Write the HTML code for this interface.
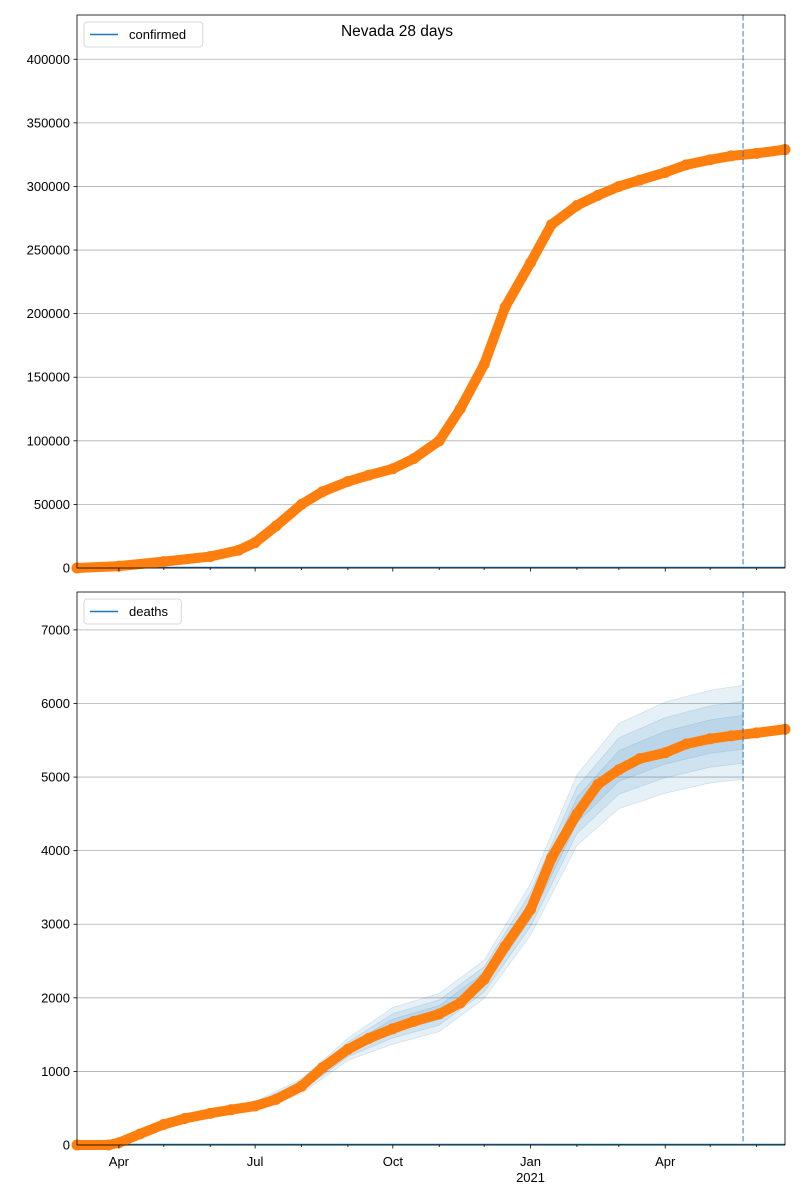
<!DOCTYPE html>
<html><head><meta charset="utf-8"><style>
body{margin:0;background:#fff;}
svg{display:block;font-family:"Liberation Sans","DejaVu Sans",sans-serif;}
</style></head><body>
<svg id="c" width="800" height="1200" xmlns="http://www.w3.org/2000/svg"></svg>
<script>
const confDates=["2020-03-04","2020-04-01","2020-05-01","2020-06-01","2020-06-20","2020-07-01","2020-07-15","2020-08-01","2020-08-15","2020-09-01","2020-09-15","2020-10-01","2020-10-15","2020-11-01","2020-11-15","2020-12-01","2020-12-15","2021-01-01","2021-01-15","2021-02-01","2021-02-15","2021-03-01","2021-03-15","2021-04-01","2021-04-15","2021-05-01","2021-05-15","2021-06-01","2021-06-20"];
const confValues=[0,1500,5000,9000,14000,20000,33000,50000,60000,68000,73000,78000,86000,100000,125000,160000,205000,240000,270000,285000,293000,300000,305000,311000,317000,321000,324000,326000,329000];
const deathDates=["2020-03-04","2020-03-25","2020-04-01","2020-04-15","2020-05-01","2020-05-15","2020-06-01","2020-06-15","2020-07-01","2020-07-15","2020-08-01","2020-08-15","2020-09-01","2020-09-15","2020-10-01","2020-10-15","2020-11-01","2020-11-15","2020-12-01","2020-12-15","2021-01-01","2021-01-15","2021-02-01","2021-02-15","2021-03-01","2021-03-15","2021-04-01","2021-04-15","2021-05-01","2021-05-15","2021-06-01","2021-06-20"];
const deathValues=[0,0,30,150,280,360,430,480,530,620,800,1050,1300,1450,1580,1680,1780,1930,2250,2700,3200,3900,4500,4900,5100,5250,5330,5450,5520,5560,5600,5650];
const bandDates=["2020-06-01","2020-07-01","2020-08-01","2020-09-01","2020-10-01","2020-11-01","2020-12-01","2021-01-01","2021-02-01","2021-03-01","2021-04-01","2021-05-01","2021-05-23"];
const bandCenter=[430,530,800,1300,1620,1800,2250,3200,4550,5150,5400,5550,5610];
const bandOuterWidth=[40,60,100,150,250,260,260,350,480,580,620,630,640];
const confTicks=[0,50000,100000,150000,200000,250000,300000,350000,400000];
const deathTicks=[0,1000,2000,3000,4000,5000,6000,7000];
const xMajor=[["2020-04-01","Apr"],["2020-07-01","Jul"],["2020-10-01","Oct"],["2021-01-01","Jan"],["2021-04-01","Apr"]];
const forecastDate="2021-05-23";

const NS="http://www.w3.org/2000/svg";
const svg=document.getElementById('c');
const t0=Date.UTC(2020,2,4), t1=Date.UTC(2021,5,20);
const X0=77,X1=785;
function pd(s){const p=s.split('-');return Date.UTC(+p[0],+p[1]-1,+p[2]);}
function x(s){return X0+(pd(s)-t0)/(t1-t0)*(X1-X0);}
const pTop={y0:568,y1:15,max:434800};
const pBot={y0:1145,y1:592,max:7515};
function yT(v){return pTop.y0-v/pTop.max*(pTop.y0-pTop.y1);}
function yB(v){return pBot.y0-v/pBot.max*(pBot.y0-pBot.y1);}
function mk(tag,attrs,parent){const e=document.createElementNS(NS,tag);for(const k in attrs)e.setAttribute(k,attrs[k]);(parent||svg).appendChild(e);return e;}

function panel(p,yf,ticks,dates,vals,label,bands,prefix){
  const g=mk('g',{});
  
  
  ticks.forEach(v=>{
    const y=yf(v);
    const gl=mk('line',{x1:X0,x2:X1,y1:y,y2:y,stroke:'#b0b0b0','stroke-width':0.8},g);
    
    
    mk('line',{x1:X0-3.5,x2:X0,y1:y,y2:y,stroke:'#000','stroke-width':0.8},g);
    const t=mk('text',{x:X0-7,y:y+4.5,'text-anchor':'end','font-size':13},g);
    t.textContent=v;
    
    
  });
  if(bands){
    [1,0.66,0.36].forEach(k=>{
      let up=bandDates.map((d,i)=>x(d)+','+yf(bandCenter[i]+bandOuterWidth[i]*k));
      let lo=bandDates.map((d,i)=>x(d)+','+yf(bandCenter[i]-bandOuterWidth[i]*k)).reverse();
      const b=mk('polygon',{points:up.concat(lo).join(' '),fill:'#1f77b4','fill-opacity':0.11,stroke:'#1f77b4','stroke-opacity':0.15,'stroke-width':0.8},g);
      
      
    });
  }
  const bl=mk('line',{x1:X0,x2:X1,y1:yf(0)-0.5,y2:yf(0)-0.5,stroke:'#1f77b4','stroke-width':1.5},g);
  
  
  const pts=dates.map((d,i)=>x(d)+','+yf(vals[i])).join(' ');
  const pl=mk('polyline',{points:pts,fill:'none',stroke:'#ff7f0e','stroke-width':10,'stroke-linejoin':'round','stroke-linecap':'round'},g);
  
  
  dates.forEach((d,i)=>{
    const c=mk('circle',{cx:x(d),cy:yf(vals[i]),r:5.5,fill:'#ff7f0e'},g);
    
    
  });
  const fx=x(forecastDate);
  const fl=mk('line',{x1:fx,x2:fx,y1:p.y1,y2:p.y0,stroke:'#1f77b4','stroke-opacity':0.6,'stroke-width':1.5,'stroke-dasharray':'5.5,2.5'},g);
  
  
  const fr=mk('rect',{x:X0,y:p.y1,width:X1-X0,height:p.y0-p.y1,fill:'none',stroke:'#000','stroke-width':0.8},g);
  
  
  for(let m=3;m<=17;m++){
    const yr=2020+Math.floor(m/12), mo=m%12;
    const s=yr+'-'+String(mo+1).padStart(2,'0')+'-01';
    const xx=x(s);
    if(xx<X0||xx>X1)continue;
    const major=xMajor.some(a=>a[0]===s);
    mk('line',{x1:xx,x2:xx,y1:p.y0,y2:p.y0+(major?3.5:2),stroke:'#000','stroke-width':0.8},g);
  }
  const lg=mk('g',{},g);
  
  
  const w=label.length*7.2+54;
  mk('rect',{x:X0+7,y:p.y1+7,width:w,height:25,rx:3,fill:'#fff','fill-opacity':0.8,stroke:'#ccc','stroke-width':0.8},lg);
  mk('line',{x1:X0+13,x2:X0+41,y1:p.y1+19.5,y2:p.y1+19.5,stroke:'#1f77b4','stroke-width':1.5},lg);
  const lt=mk('text',{x:X0+52,y:p.y1+24,'font-size':13},lg);
  lt.textContent=label;
  
  
}
panel(pTop,yT,confTicks,confDates,confValues,'confirmed',false,'confirmed');
panel(pBot,yB,deathTicks,deathDates,deathValues,'deaths',true,'deaths');
xMajor.forEach(a=>{
  const t=mk('text',{x:x(a[0]),y:1166,'text-anchor':'middle','font-size':13});
  t.textContent=a[1];
  
  
});
const yrL=mk('text',{x:x('2021-01-01'),y:1182,'text-anchor':'middle','font-size':13});
yrL.textContent='2021';


const title=mk('text',{x:397,y:36,'text-anchor':'middle','font-size':15.5});
title.textContent='Nevada 28 days';


</script>
</body></html>
